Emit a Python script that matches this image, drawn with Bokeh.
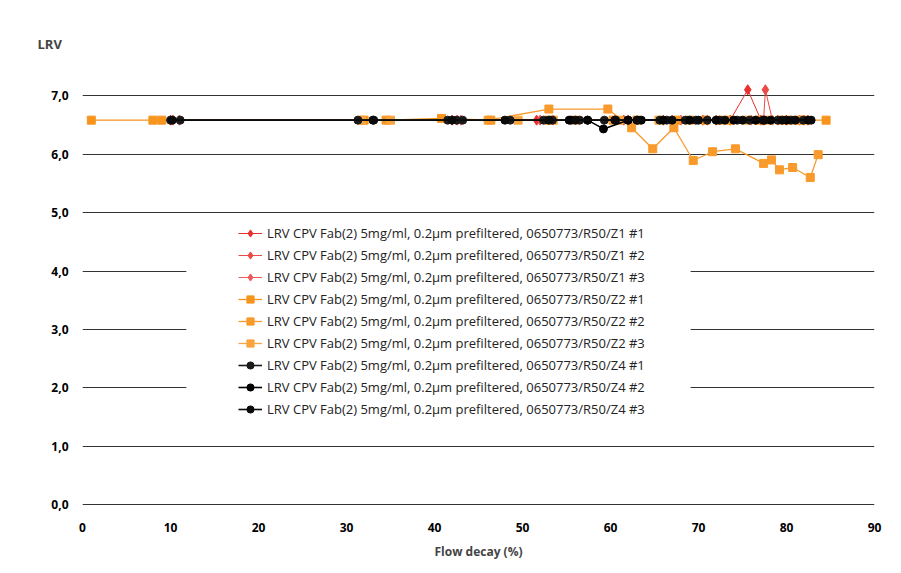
from bokeh.plotting import figure
from bokeh.models import (Range1d, FixedTicker, CustomJSTickFormatter, Legend, LegendItem,
                          BoxAnnotation, Title)
from bokeh.embed import file_html
from bokeh.resources import INLINE

# ---------------- data ----------------
LBL = "LRV CPV Fab(2) 5mg/ml, 0.2µm prefiltered, 0650773/R50/"

z1_1_x = [10.0, 42.0, 51.6, 61.5, 66.0, 70.5, 73.6, 75.6, 77.1, 80.0, 82.4]
z1_1_y = [6.58, 6.58, 6.58, 6.58, 6.58, 6.58, 6.58, 7.10, 6.58, 6.58, 6.58]
z1_2_x = [11.0, 42.6, 52.0, 62.0, 67.0, 71.0, 77.4, 77.6, 78.4, 81.5]
z1_2_y = [6.58, 6.58, 6.58, 6.58, 6.58, 6.58, 6.58, 7.10, 6.58, 6.58]
z1_3_x = [10.3, 43.0, 53.5, 60.5, 68.0, 72.0, 76.0, 79.0, 82.0]
z1_3_y = [6.58, 6.58, 6.58, 6.58, 6.58, 6.58, 6.58, 6.58, 6.58]

z2_1_x = [1.0, 8.0, 9.0, 32.0, 34.5, 40.8, 46.4, 53.0, 60.3, 63.0, 67.5, 70.8, 73.5, 76.8, 79.5, 81.5, 84.5]
z2_1_y = [6.58, 6.58, 6.58, 6.58, 6.58, 6.61, 6.58, 6.58, 6.58, 6.58, 6.58, 6.58, 6.58, 6.58, 6.58, 6.58, 6.58]
z2_2_x = [46.1, 53.0, 59.7, 62.4, 64.8, 67.2, 69.4, 71.6, 74.2, 77.4, 78.3, 79.2, 80.7, 82.7, 83.6]
z2_2_y = [6.58, 6.77, 6.77, 6.45, 6.09, 6.45, 5.89, 6.04, 6.09, 5.84, 5.90, 5.73, 5.77, 5.60, 5.99]
z2_3_x = [31.7, 35.0, 49.5, 53.5, 56.0, 61.0, 65.5, 69.0, 72.5, 75.5, 78.0, 80.5, 82.0]
z2_3_y = [6.58, 6.58, 6.58, 6.58, 6.58, 6.58, 6.58, 6.58, 6.58, 6.58, 6.58, 6.58, 6.58]

z4_1_x = [10.0, 11.1, 31.3, 33.1, 41.5, 42.5, 43.2, 48.6, 52.4, 53.4, 55.5, 56.5, 57.4, 59.3, 60.6,
          62.0, 63.1, 65.6, 66.4, 68.5, 69.7, 71.0, 72.4, 74.4, 75.8, 77.3, 79.0, 80.5, 81.9]
z4_1_y = [6.58] * len(z4_1_x)
z4_2_x = [55.3, 57.4, 59.2, 62.0, 63.5, 66.0, 69.0, 72.0, 74.0, 76.5, 78.2, 80.0, 82.5]
z4_2_y = [6.58, 6.58, 6.43, 6.58, 6.58, 6.58, 6.58, 6.58, 6.58, 6.58, 6.58, 6.58, 6.58]
z4_3_x = [10.2, 33.0, 42.0, 48.0, 53.0, 56.0, 60.5, 63.0, 67.0, 70.0, 73.0, 75.0, 77.5, 79.5, 81.0, 82.8]
z4_3_y = [6.58] * len(z4_3_x)

x_ticks = [0, 10, 20, 30, 40, 50, 60, 70, 80, 90]
y_ticks = [0, 1, 2, 3, 4, 5, 6, 7]

series = [
    ("Z1 #1", z1_1_x, z1_1_y, "#e8302e", "diamond", 10, 1.0),
    ("Z1 #2", z1_2_x, z1_2_y, "#ec4a46", "diamond", 10, 1.0),
    ("Z1 #3", z1_3_x, z1_3_y, "#ef5a57", "diamond", 10, 1.0),
    ("Z2 #1", z2_1_x, z2_1_y, "#f7941d", "square", 8, 1.3),
    ("Z2 #2", z2_2_x, z2_2_y, "#f89a2c", "square", 8, 1.3),
    ("Z2 #3", z2_3_x, z2_3_y, "#f9a53f", "square", 8, 1.3),
    ("Z4 #1", z4_1_x, z4_1_y, "#1a1a1a", "circle", 8, 1.6),
    ("Z4 #2", z4_2_x, z4_2_y, "#000000", "circle", 8, 1.6),
    ("Z4 #3", z4_3_x, z4_3_y, "#0a0a0a", "circle", 8, 1.6),
]

FONT = "Open Sans"

p = figure(width=893, height=565, output_backend="svg", toolbar_location=None,
           x_range=Range1d(0, 90), y_range=Range1d(-0.01, 7.6),
           min_border_left=82, min_border_right=19, min_border_top=60, min_border_bottom=60)
p.outline_line_color = None
p.background_fill_color = "white"
p.border_fill_color = "white"

p.xgrid.grid_line_color = None
p.ygrid.grid_line_color = "#333333"
p.ygrid.grid_line_width = 1
p.ygrid.ticker = FixedTicker(ticks=y_ticks)

for ax in (p.xaxis[0], p.yaxis[0]):
    ax.axis_line_color = None
    ax.major_tick_line_color = None
    ax.minor_tick_line_color = None
    ax.major_label_text_font = FONT
    ax.major_label_text_font_style = "bold"
    ax.major_label_text_font_size = "12px"
    ax.major_label_text_color = "#000000"

p.xaxis.ticker = FixedTicker(ticks=x_ticks)
p.yaxis.ticker = FixedTicker(ticks=y_ticks)
p.yaxis.formatter = CustomJSTickFormatter(code="return tick.toFixed(1).replace('.', ',')")
p.xaxis.major_label_standoff = 11
p.yaxis.major_label_standoff = 8
p.xaxis.axis_label = "Flow decay (%)"
p.xaxis.axis_label_text_font = FONT
p.xaxis.axis_label_text_font_style = "bold"
p.xaxis.axis_label_text_font_size = "12px"
p.xaxis.axis_label_standoff = 8

items = []
for name, xs, ys, col, mk, sz, lw in series:
    lr = p.line(xs, ys, line_color=col, line_width=lw)
    sr = p.scatter(xs, ys, marker=mk, size=sz, fill_color=col, line_color=col)
    items.append(LegendItem(label=LBL + name, renderers=[lr, sr]))

# white area behind the legend (hides the gridlines like the original)
mask = BoxAnnotation(left=11.8, right=69.1, top=4.9, bottom=1.4,
                     fill_color="white", fill_alpha=1.0, line_color=None)
p.add_layout(mask)

legend = Legend(items=items, location=(156, 87))
legend.label_text_font = FONT
legend.label_text_font_size = "13px"
legend.label_text_color = "#222222"
legend.label_height = 18
legend.glyph_height = 18
legend.glyph_width = 24
legend.spacing = 4
legend.label_standoff = 5
legend.padding = 0
legend.border_line_color = None
legend.background_fill_alpha = 0.0
p.add_layout(legend, "center")

p.title = Title(text="LRV", align="left", offset=-45, text_font=FONT,
                text_font_style="bold", text_font_size="13px", standoff=15)

open("out.html", "w").write(file_html(p, INLINE))
